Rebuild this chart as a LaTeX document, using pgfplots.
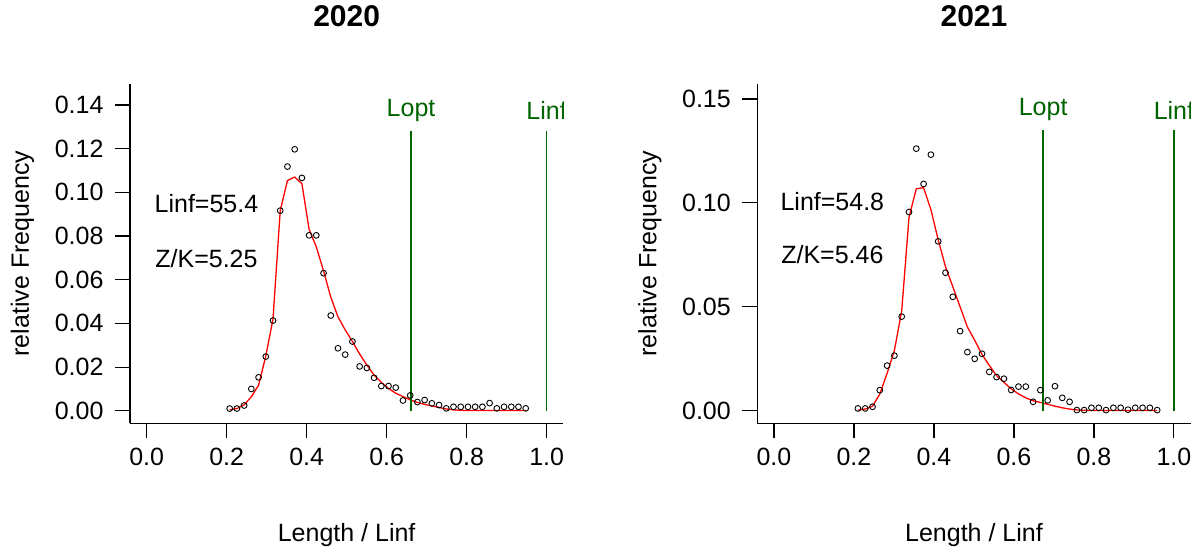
\documentclass[border=0pt]{standalone}
\usepackage{fontspec}
\setmainfont{Liberation Sans}
\usepackage{pgfplots}
\pgfplotsset{compat=1.18}
\definecolor{dgreen}{RGB}{0,100,0}

\pgfplotstableread{
x y f
0.20758 0.0010 0.0004
0.22563 0.0010 0.0010
0.24368 0.0024 0.0027
0.26173 0.0100 0.0064
0.27978 0.0153 0.0117
0.29783 0.0248 0.0250
0.31588 0.0413 0.0420
0.33394 0.0916 0.0916
0.35199 0.1118 0.1054
0.37004 0.1197 0.1070
0.38809 0.1066 0.1040
0.40614 0.0803 0.0830
0.42419 0.0803 0.0750
0.44224 0.0630 0.0640
0.46029 0.0436 0.0520
0.47834 0.0286 0.0430
0.49639 0.0257 0.0370
0.51444 0.0317 0.0317
0.53249 0.0203 0.0260
0.55054 0.0196 0.0209
0.56859 0.0151 0.0163
0.58664 0.0113 0.0130
0.60469 0.0113 0.0102
0.62274 0.0106 0.0080
0.64079 0.0047 0.0065
0.65884 0.0070 0.0050
0.67690 0.0040 0.0038
0.69495 0.0049 0.0029
0.71300 0.0034 0.0022
0.73105 0.0026 0.0015
0.74910 0.0011 0.0008
0.76715 0.0018 0.0004
0.78520 0.0018 0.0002
0.80325 0.0018 0.0001
0.82130 0.0018 0.0001
0.83935 0.0018 0.0001
0.85740 0.0035 0.0001
0.87545 0.0011 0.0001
0.89350 0.0018 0.0001
0.91155 0.0018 0.0001
0.92960 0.0018 0.0001
0.94765 0.0011 0.0001
}\datatwenty

\pgfplotstableread{
x y f
0.20985 0.0011 0.0003
0.22810 0.0011 0.0008
0.24635 0.0019 0.0022
0.26460 0.0099 0.0080
0.28285 0.0217 0.0180
0.30109 0.0265 0.0290
0.31934 0.0453 0.0480
0.33759 0.0956 0.0930
0.35584 0.1261 0.1068
0.37409 0.1091 0.1073
0.39234 0.1232 0.0968
0.41058 0.0815 0.0822
0.42883 0.0664 0.0693
0.44708 0.0548 0.0597
0.46533 0.0383 0.0500
0.48358 0.0282 0.0403
0.50182 0.0250 0.0339
0.52007 0.0274 0.0271
0.53832 0.0187 0.0218
0.55657 0.0162 0.0169
0.57482 0.0154 0.0137
0.59307 0.0100 0.0105
0.61131 0.0116 0.0081
0.62956 0.0116 0.0062
0.64781 0.0043 0.0048
0.66606 0.0099 0.0040
0.68431 0.0050 0.0031
0.70255 0.0118 0.0022
0.72080 0.0062 0.0014
0.73905 0.0043 0.0008
0.75730 0.0003 0.0004
0.77555 0.0003 0.0002
0.79380 0.0014 0.0001
0.81204 0.0014 0.0001
0.83029 0.0003 0.0001
0.84854 0.0014 0.0001
0.86679 0.0014 0.0001
0.88504 0.0005 0.0001
0.90328 0.0014 0.0001
0.92153 0.0014 0.0001
0.93978 0.0014 0.0001
0.95803 0.0003 0.0001
}\datatwentyone

\pgfplotsset{lbb/.style={
  scale only axis, width=433.3pt, height=339.3pt,
  xmin=-0.04167, xmax=1.04167,
  axis x line*=bottom, axis y line*=left,
  axis line style={line width=1.1pt, black},
  tick align=outside, major tick length=15pt,
  tick style={line width=1.1pt, black},
  xtick={0,0.2,0.4,0.6,0.8,1},
  scaled ticks=false,
  tick label style={font=\fontsize{25}{30}\selectfont},
  xticklabel style={yshift=-6pt, /pgf/number format/.cd, fixed, fixed zerofill, precision=1},
  yticklabel style={xshift=-8pt, /pgf/number format/.cd, fixed, fixed zerofill, precision=2},
  /pgf/number format/assume math mode=true,
  label style={font=\fontsize{25}{30}\selectfont},
  title style={font=\fontsize{30}{35}\selectfont\bfseries, at={(0.5,1.1836)}, anchor=center},
  xlabel={Length / Linf},
  ylabel={relative Frequency},
  xlabel style={at={(0.5,-0.330)}, anchor=center},
  ylabel style={at={(-0.2481,0.5)}, anchor=center},
  clip=false,
}}

\begin{document}
\begin{tikzpicture}[x=1pt,y=1pt]
\path[use as bounding box] (0,0) rectangle (1196,552);

\begin{axis}[lbb, at={(130pt,128.7pt)}, anchor=south west,
  ymin=-0.00575, ymax=0.1496,
  ytick={0,0.02,0.04,0.06,0.08,0.10,0.12,0.14},
  title={2020}]
  \addplot[red, line width=1.3pt] table[x=x,y=f] {\datatwenty};
  \addplot[only marks, mark=o, mark size=2.9pt, black, mark options={line width=0.9pt}] table[x=x,y=y] {\datatwenty};
  \addplot[dgreen, line width=1.6pt] coordinates {(0.661,0) (0.661,0.1283)};
  \addplot[dgreen, line width=1.6pt] coordinates {(1,0) (1,0.1283)};
  \node[text=dgreen, font=\fontsize{25}{30}\selectfont] at (axis cs:0.661,0.1374) {Lopt};
  \begin{scope}
    \clip (rel axis cs:0,0) rectangle (rel axis cs:1,1);
    \node[text=dgreen, font=\fontsize{25}{30}\selectfont] at (axis cs:1,0.1374) {Linf};
  \end{scope}
  \node[font=\fontsize{25}{30}\selectfont] at (axis cs:0.1495,0.0949) {Linf=55.4};
  \node[font=\fontsize{25}{30}\selectfont] at (axis cs:0.1495,0.0698) {Z/K=5.25};
\end{axis}

\begin{axis}[lbb, at={(757.3pt,128.7pt)}, anchor=south west,
  ymin=-0.00605, ymax=0.1572,
  ytick={0,0.05,0.10,0.15},
  title={2021}]
  \addplot[red, line width=1.3pt] table[x=x,y=f] {\datatwentyone};
  \addplot[only marks, mark=o, mark size=2.9pt, black, mark options={line width=0.9pt}] table[x=x,y=y] {\datatwentyone};
  \addplot[dgreen, line width=1.6pt] coordinates {(0.673,0) (0.673,0.1351)};
  \addplot[dgreen, line width=1.6pt] coordinates {(1,0) (1,0.1351)};
  \node[text=dgreen, font=\fontsize{25}{30}\selectfont] at (axis cs:0.673,0.1447) {Lopt};
  \begin{scope}
    \clip (rel axis cs:0,0) rectangle (rel axis cs:1,1);
    \node[text=dgreen, font=\fontsize{25}{30}\selectfont] at (axis cs:1,0.1447) {Linf};
  \end{scope}
  \node[font=\fontsize{25}{30}\selectfont] at (axis cs:0.146,0.1006) {Linf=54.8};
  \node[font=\fontsize{25}{30}\selectfont] at (axis cs:0.146,0.0749) {Z/K=5.46};
\end{axis}
\end{tikzpicture}
\end{document}
